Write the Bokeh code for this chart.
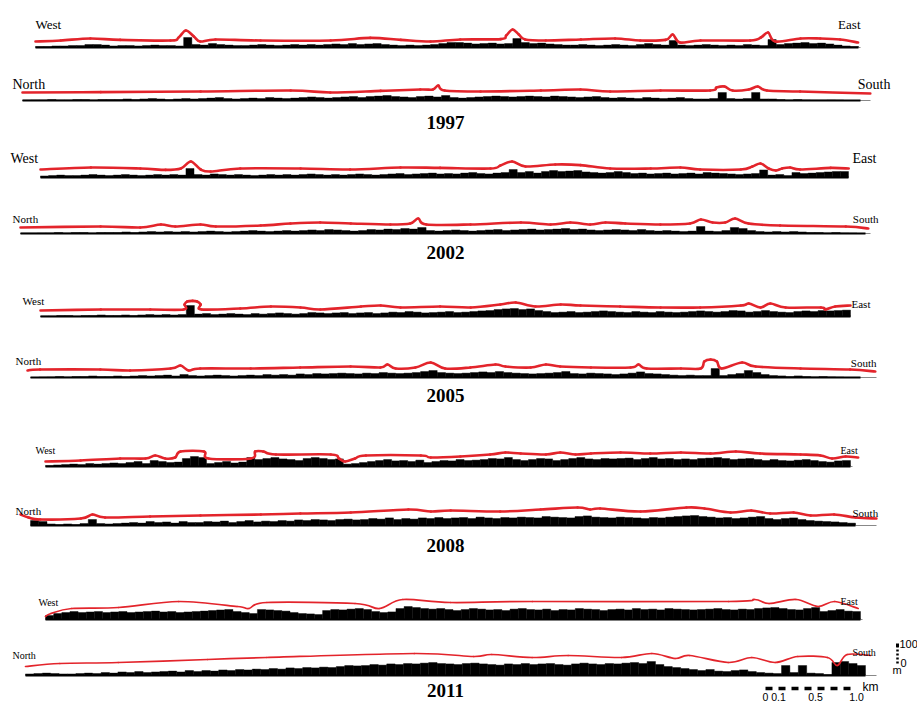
from bokeh.plotting import figure
from bokeh.models import Range1d, ColumnDataSource
from bokeh.embed import file_html
from bokeh.resources import INLINE
from bokeh.core.properties import value

# ---------------- DATA ----------------
# building heights (m) in equal-width bins along each transect
we_1997 = [5,5,8,8,10,10, 15,15,12, 8,10,10,8,10,12,10,10,8, 50,
           15,12,20,15,12,10, 10,12,15,12,10,12,15,12, 15,12,15,18,15,20,15,18,
           20,15,12,10,12,10, 12,15,20,25,25,22,18, 20,22,18,20, 45,
           25,20,22,18,15,12, 12,15,12,10,12,15,12,10, 15,20,15,12, 35,
           12,10,12,15,12,10,12,10, 15,12,10, 40, 15,20,22,25,20,22,18,12,8,5]
ns_1997 = [2,3,3,5,3,3,5,5,3,5,5, 5,8,5,8,10,8,5,8,10,8,10,12,15,10,8,
           10,12,10,15,12,10,12,15,18,15,12,15,18,20,15, 20,22,25,20,18,15,20,22,18,
           25, 15,12,15,18,20,22,20,18,20,22, 20,18,22,20,18,15,18,20,15,12,
           15,12,10,15,12,10,12,15,10,8, 8,10,40,10, 8,10,40,8,
           8,5,3,5,3,2,2,3,2,0,0]
we_2002 = [8,10,12,10,10,12,15,12,10,12, 15,12,10,12,15,12,15,12, 45,
           15,12,18,15,12,15,12,10,12,15, 12,15,12,15,18,15,12,15,12,15,18,15,
           12,15,18,20,15,18,20,22,18,20, 18,22,25,20,18,22,25, 40,
           25,30,22,30,35,30,32,35,28,25, 22,25,30,25,20,22,18,20,22,18,
           20,22,18,25,22,20,18,15,18,20, 38, 12,15,10, 25, 20,22,25,28,30,30]
ns_2002 = [2,2,3,3,5,3,5,5,3,5, 5,5,8,5,8,10,8,10,8,10, 8,10,12,10,8,10,12,15,12,10,
           12,15,12,15,18,15,20,18,15,12, 15,20,18,22,20,25,22, 30,
           15,12,15,18,15,12,15,18,20,15, 18,20,22,18,20,22,25,20,22,18,
           15,18,20,18,15,20,15,12,15,12, 10,12, 35, 12,10,15, 30,25,
           15,10,8,10, 8,10,8,5,5,3,5,3,2,0]
we_2005 = [3,3,5,5,3,5,5,8,5,5, 8,5,8,10,8,10,8,10, 55,
           12,15,10,12,15,12,10,15,12,15, 18,15,12,15,20,18,15,18,20,15,
           18,20,15,18,22,20,25,22,18,20, 22,25,20,22,25,28,30,35,38,
           40,35,38,30,25,20, 22,25,20,22,25,28,25,22,20,25,
           22,20,25,22,20,22,25,28,25,22, 25,30,28,22,25,30,25,22,20,25, 28,25,30,28,30,32]
ns_2005 = [0,2,3,5,3,5,5,8,5,5, 8,5,8,10,8,10,12,8,15,10, 8,10,12,10,8,10,12,10,15,12,
           15,12,18,15,20,18,20,22,20,18, 22,20,25,22,20,22,25,30, 35,
           25,22,20,22,25,28,25, 30,25, 22,20,18,20,22,25, 30,
           20,18,22,20,18,15,18,22,28, 20,18,15,12,10,12,10, 10, 45, 10,15,20, 35, 25,15,
           10,8,5,8,5,3,5,3,2,0,0]
we_2008 = [5,8,10,12,10,15,12,15,18,15, 20,25,15,30, 25,20,22, 40,50,45, 15,20,25,18,22, 45,
           35,40,45,38,35,30,40,45,40,35,38, 12,15,20, 25,30,35,28,30,25,32,
           20,25,30,28,35,30,32,35, 40,38,45,35,30, 35,40,38,30,35,40,45,38,35,40,
           38,40,42,35,40,45,38,40,35,38, 35,40,42,45,40,35,38,40,35,30,
           35,30,28,32,35,30,25,22,28,30]
ns_2008 = [25,20,8,5,8,5,10,30,10,8, 10,12,15,12,20,15,18,12,20,15, 15,20,18,22,15,20,25,18,22,20,
           25,22,28,25,30,28,25,30,32,28, 30,35,32,38,30,35,32,38,35,40,
           35,38,40,35,42,38,35,40,38,42, 40,38,45,42,40,38,45,48,42,40,
           38,42,40,38,35,40,38,42,45,48, 50,45,42,38,40,35,38,42,45,35,
           30,35,38,30,25,22,20,18,15,12]
we_2011 = [20,30,35,40,35,38,40,35,38,40, 35,38,40,42,38,40,35,38,40,42,
           45,48,50,40,35,30,50,48,45,42, 35,30,28,25,45,50,48,52,55,50,
           40,35,38,55,65,60,55,52,55,50, 45,50,55,52,48,50,45,52,55,50,
           48,52,45,50,48,55,52,50,45,50, 52,48,55,50,52,48,55,52,50,48,
           50,52,55,50,48,52,50,55,58,60, 55,50,48,55,60,40,45,50,42,40]
ns_2011 = [8,10,12,10,8,8,10,12,10,15, 12,18,15,20,15,18,20,22,18,25,
           20,25,22,28,25,30,28,32,30,35, 32,38,35,40,38,42,40,45,50,48,
           50,55,52,58,55,60,58,62,65,60, 58,55,60,62,58,55,52,58,55,60,
           55,58,60,55,52,58,62,58,55,60, 58,62,65,60,70,55,45,40,35,30,
           25,30,22,20,25,28,20,15,12,10, 50,15,50,12,10,5,65,70,60,50]

# envelope (red) lines: distance along transect (km) and height (m)
we_1997_env_km = [0,0.28,0.61,0.94,1.5,1.59,1.67,1.76,1.83,2.0,2.5,3.28,3.72,4.06,4.39,4.72,5.17,5.23,5.3,5.37,5.44,5.67,6.06,6.44,6.72,7.0,7.08,7.16,7.39,7.94,8.06,8.14,8.22,8.5,8.72,8.94,9.14]
we_1997_env_m  = [30,35,45,38,35,50,85,55,30,40,35,35,48,38,30,40,42,60,90,65,40,35,40,45,35,38,65,25,35,35,50,75,30,45,45,40,25]
ns_1997_env_km = [0,0.87,1.98,2.98,3.42,3.98,4.42,4.56,4.62,4.69,5.09,5.76,6.2,6.53,7.09,7.64,7.71,7.8,7.89,8.07,8.17,8.27,8.64,9.42]
ns_1997_env_m  = [40,42,45,50,40,48,55,55,75,50,45,50,55,45,50,50,65,70,50,55,70,50,45,35]
we_2002_env_km = [0,0.56,1.11,1.39,1.56,1.67,1.78,1.89,2.22,2.89,3.44,4.0,4.44,5.0,5.11,5.24,5.39,5.72,6.0,6.33,6.78,7.11,7.33,7.78,7.91,8.0,8.09,8.17,8.24,8.33,8.44,8.78,8.98]
we_2002_env_m  = [40,50,45,38,45,80,40,30,45,45,40,50,48,45,60,80,55,65,62,45,45,50,40,40,55,70,45,35,45,50,40,48,45]
ns_2002_env_km = [0,0.89,1.33,1.56,1.72,2.0,2.17,2.67,3.0,3.33,3.67,4.11,4.33,4.42,4.51,5.0,5.56,5.89,6.11,6.33,6.5,6.72,7.11,7.44,7.56,7.69,7.83,7.94,8.09,8.44,9.17,9.42]
ns_2002_env_m  = [30,35,30,45,35,45,35,40,50,55,50,45,50,75,45,45,55,45,55,45,55,50,45,50,70,55,55,75,50,40,35,25]
we_2005_env_km = [0,0.67,1.22,1.59,1.6,1.63,1.69,1.74,1.78,1.79,2.22,2.56,2.89,3.11,3.56,3.78,4.0,4.44,4.78,5.11,5.28,5.5,5.78,6.0,6.44,6.89,7.33,7.78,7.87,8.0,8.11,8.28,8.67,8.72,8.83,9.0]
we_2005_env_m  = [30,35,35,35,60,75,78,75,60,35,40,50,45,35,50,55,45,50,45,60,70,50,60,55,50,45,45,55,65,45,65,45,45,35,50,55]
ns_2005_env_km = [0,0.14,0.81,1.14,1.59,1.7,1.79,1.92,2.48,3.03,3.59,3.92,4.0,4.09,4.31,4.48,4.64,4.92,5.2,5.31,5.59,5.76,5.92,6.26,6.7,6.79,6.88,7.26,7.48,7.52,7.59,7.66,7.71,7.94,8.09,8.59,9.14,9.42]
ns_2005_env_m  = [35,40,40,35,45,60,35,45,45,50,55,50,65,45,50,75,45,50,65,55,50,65,55,50,50,65,45,45,45,80,90,80,45,75,55,45,40,30]
we_2008_env_km = [0,0.39,0.83,1.11,1.22,1.33,1.44,1.5,1.76,1.81,2.28,2.33,2.42,2.56,3.17,3.26,3.33,3.44,3.56,4.17,4.28,4.61,4.94,5.11,5.28,5.56,5.72,5.89,6.06,6.39,6.72,7.06,7.39,7.67,7.94,8.39,8.61,8.74,8.89,9.03]
we_2008_env_m  = [25,30,40,40,55,40,45,75,75,40,40,75,75,60,60,40,25,40,55,55,45,50,60,70,65,60,70,60,65,70,65,70,65,75,65,60,55,40,50,45]
ns_2008_env_km = [0,0.09,0.22,0.67,0.8,0.94,1.44,2.0,2.67,3.11,3.67,4.31,4.56,4.78,5.33,5.78,6.19,6.33,6.44,6.89,7.4,7.6,7.89,8.12,8.33,8.59,8.78,9.04,9.28,9.51]
ns_2008_env_m  = [55,40,30,35,55,40,45,50,55,60,65,80,70,75,70,80,90,80,85,70,90,85,65,75,60,65,50,55,40,35]
we_2011_env_km = [0,0.06,0.29,0.81,1.48,2.13,2.26,2.46,3.44,3.71,3.97,4.5,5.41,7.59,7.88,8.04,8.34,8.58,8.77,9.03]
we_2011_env_m  = [15,30,55,60,90,65,55,85,80,55,100,85,90,90,100,80,100,65,90,55]
ns_2011_env_km = [0,0.38,1.03,2.02,2.68,4.32,4.98,5.18,5.63,6.03,6.62,6.96,7.22,7.38,7.81,8.07,8.33,8.58,8.91,9.02,9.13,9.39]
ns_2011_env_m  = [45,60,65,80,90,110,95,105,90,100,90,110,85,100,65,90,65,95,90,50,105,100]

years = ["1997", "2002", "2005", "2008", "2011"]
scale_km_labels = ["0", "0.1", "0.5", "1.0"]
scale_km_values = [0, 0.1, 0.5, 1.0]

# ---------------- LAYOUT ----------------
W, H = 917, 702
PX_KM = 90.0   # pixels per km
PX_M = 0.2     # pixels per metre

def kx(px):
    return px / PX_KM

def my(py):
    return (H - py) / PX_M

p = figure(width=W, height=H, x_range=Range1d(0, W / PX_KM), y_range=Range1d(0, H / PX_M),
           output_backend="svg", toolbar_location=None, min_border=0)
p.axis.visible = False
p.grid.visible = False
p.outline_line_color = None
p.background_fill_color = "white"

FONT = value("Liberation Serif")
SANS = value("Liberation Sans")
RED = "#e3242b"

profiles = [
    (we_1997, we_1997_env_km, we_1997_env_m, 35, 858, 47, 35, 860,
     [("West", 35, 24, "left", "13px"), ("East", 860, 24, "right", "13px")], 2.6),
    (ns_1997, ns_1997_env_km, ns_1997_env_m, 22, 860, 100, 22, 870,
     [("North", 12, 84, "left", "14px"), ("South", 890, 84, "right", "14px")], 2.6),
    (we_2002, we_2002_env_km, we_2002_env_m, 40, 848, 177, 40, 848,
     [("West", 10, 158, "left", "14px"), ("East", 876, 158, "right", "14px")], 2.6),
    (ns_2002, ns_2002_env_km, ns_2002_env_m, 20, 865, 233, 20, 870,
     [("North", 12, 218, "left", "11px"), ("South", 878, 218, "right", "11px")], 2.6),
    (we_2005, we_2005_env_km, we_2005_env_m, 40, 850, 316, 40, 850,
     [("West", 22, 300, "left", "11px"), ("East", 851, 303, "left", "11px")], 2.6),
    (ns_2005, ns_2005_env_km, ns_2005_env_m, 30, 860, 377, 27, 876,
     [("North", 15, 360, "left", "11px"), ("South", 876, 362, "right", "11px")], 2.6),
    (we_2008, we_2008_env_km, we_2008_env_m, 45, 850, 466, 45, 852,
     [("West", 35, 450, "left", "10px"), ("East", 840, 450, "left", "10px")], 2.6),
    (ns_2008, ns_2008_env_km, ns_2008_env_m, 30, 855, 525, 20, 876,
     [("North", 15, 510, "left", "11px"), ("South", 852, 512, "left", "11px")], 2.6),
    (we_2011, we_2011_env_km, we_2011_env_m, 45, 860, 619, 45, 862,
     [("West", 38, 602, "left", "10px"), ("East", 840, 601, "left", "10px")], 1.7),
    (ns_2011, ns_2011_env_km, ns_2011_env_m, 25, 865, 675, 25, 876,
     [("North", 12, 655, "left", "10px"), ("South", 852, 652, "left", "10px")], 1.7),
]


def smooth_segments(xs, ys):
    """Catmull-Rom style cubic segments through the given envelope points."""
    n = len(xs)
    seg = dict(x0=[], y0=[], x1=[], y1=[], cx0=[], cy0=[], cx1=[], cy1=[])
    for i in range(n - 1):
        a = max(i - 1, 0)
        d = min(i + 2, n - 1)
        seg["x0"].append(xs[i]); seg["y0"].append(ys[i])
        seg["x1"].append(xs[i + 1]); seg["y1"].append(ys[i + 1])
        seg["cx0"].append(xs[i] + (xs[i + 1] - xs[a]) / 6.0)
        seg["cy0"].append(ys[i] + (ys[i + 1] - ys[a]) / 6.0)
        seg["cx1"].append(xs[i + 1] - (xs[d] - xs[i]) / 6.0)
        seg["cy1"].append(ys[i + 1] - (ys[d] - ys[i]) / 6.0)
    return seg


for heights, env_km, env_m, x0, x1, base, ex0, gx1, labels, ew in profiles:
    n = len(heights)
    start = kx(x0)
    binw = (kx(x1) - start) / n
    b = my(base)
    left = [start + i * binw for i in range(n)]
    right = [l + binw for l in left]
    src = ColumnDataSource(dict(left=left, right=right,
                                bottom=[b] * n, top=[b + h for h in heights]))
    p.quad(left="left", right="right", bottom="bottom", top="top", source=src,
           fill_color="black", line_color="black", line_width=0.4)
    p.line([kx(x0), kx(gx1)], [b, b], line_color="#888888", line_width=1)
    p.line([kx(x0), kx(x1)], [b, b], line_color="black", line_width=2)
    ex = [kx(ex0) + d for d in env_km]
    ey = [b + m for m in env_m]
    p.bezier(source=ColumnDataSource(smooth_segments(ex, ey)),
             x0="x0", y0="y0", x1="x1", y1="y1", cx0="cx0", cy0="cy0", cx1="cx1", cy1="cy1",
             line_color=RED, line_width=ew, line_cap="round")
    for txt, lx, ly, al, fs in labels:
        p.text(x=[kx(lx)], y=[my(ly)], text=[txt], text_font=FONT, text_font_size=fs,
               text_align=al, text_baseline="middle", text_color="black")

year_y = [122, 252, 395, 545, 690]
p.text(x=[kx(445)] * len(years), y=[my(yy) for yy in year_y], text=years,
       text_font=FONT, text_font_size="19px", text_font_style="bold",
       text_align="center", text_baseline="middle", text_color="black")

# vertical scale (0 - 100 m)
sx = kx(897)
s0 = my(663)
p.line([sx, sx], [s0, s0 + 100], line_color="black", line_width=2.5, line_dash="2 2")
p.line([sx, sx], [s0 + 82, s0 + 100], line_color="black", line_width=3)
p.text(x=[kx(899)], y=[s0 + 100], text=["100"], text_font=SANS, text_font_size="11px",
       text_align="left", text_baseline="middle")
p.text(x=[kx(900)], y=[s0 + 3], text=["0"], text_font=SANS, text_font_size="11px",
       text_align="left", text_baseline="middle")
p.text(x=[kx(892)], y=[my(669)], text=["m"], text_font=SANS, text_font_size="11px",
       text_align="left", text_baseline="middle")

# horizontal scale (km)
hx0 = kx(765)
hy = my(688)
p.line([hx0, hx0 + 1.0], [hy, hy], line_color="black", line_width=3.5, line_dash="7 6")
p.text(x=[hx0 + v for v in scale_km_values], y=[my(696)] * 4, text=scale_km_labels,
       x_offset=[0, 4, 5, 1],
       text_font=SANS, text_font_size="10.5px", text_align="center", text_baseline="middle")
p.text(x=[kx(862)], y=[my(686)], text=["km"], text_font=SANS, text_font_size="12px",
       text_align="left", text_baseline="middle")

open("out.html", "w").write(file_html(p, INLINE))
